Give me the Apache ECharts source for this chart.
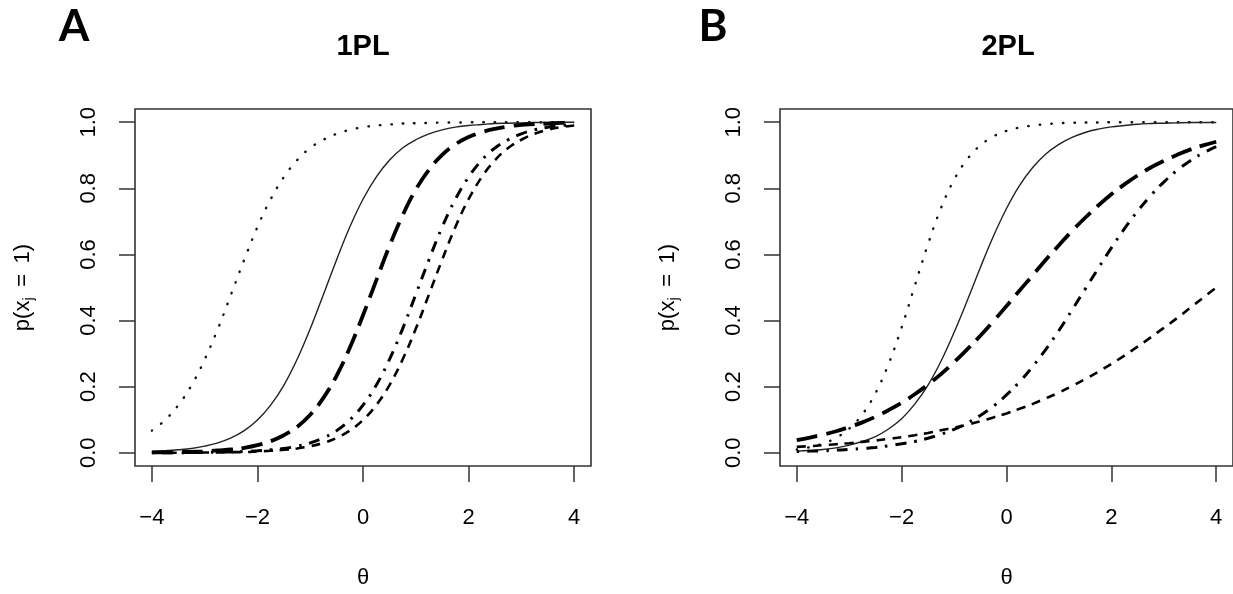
<!DOCTYPE html>
<html><head><meta charset="utf-8">
<script src="https://cdn.jsdelivr.net/npm/echarts@6/dist/echarts.min.js"></script>
<style>html,body{margin:0;padding:0;background:#fff}#c{width:1233px;height:594px}</style>
</head><body><div id="c"></div>
<script>
// ---- data ----
const theta = [-4,-3.75,-3.5,-3.25,-3,-2.75,-2.5,-2.25,-2,-1.75,-1.5,-1.25,-1,-0.75,-0.5,-0.25,0,0.25,0.5,0.75,1,1.25,1.5,1.75,2,2.25,2.5,2.75,3,3.25,3.5,3.75,4];
const xTicks = [-4,-2,0,2,4];
const yTicks = [0,0.2,0.4,0.6,0.8,1];
const panelTitles = ['1PL','2PL'];
const panelLetters = ['A','B'];

// Panel A (1PL)
const pl1Dotted   = [0.067,0.099,0.144,0.204,0.282,0.375,0.479,0.584,0.683,0.767,0.834,0.885,0.922,0.947,0.965,0.977,0.985,0.990,0.993,0.996,0.997,0.998,0.999,0.999,1.000,1.000,1.000,1.000,1.000,1.000,1.000,1.000,1.000];
const pl1Solid    = [0.004,0.006,0.009,0.013,0.020,0.030,0.045,0.067,0.099,0.144,0.204,0.282,0.375,0.479,0.584,0.683,0.767,0.834,0.885,0.922,0.947,0.965,0.977,0.985,0.990,0.993,0.996,0.997,0.998,0.999,0.999,1.000,1.000];
const pl1LongDash = [0.001,0.001,0.002,0.003,0.004,0.007,0.010,0.015,0.023,0.035,0.053,0.078,0.115,0.166,0.233,0.318,0.416,0.521,0.625,0.718,0.796,0.856,0.901,0.933,0.955,0.970,0.980,0.987,0.992,0.994,0.996,0.998,0.998];
const pl1DashDot  = [0.000,0.000,0.000,0.001,0.001,0.002,0.002,0.004,0.006,0.009,0.013,0.020,0.030,0.045,0.067,0.099,0.144,0.204,0.282,0.375,0.479,0.584,0.683,0.767,0.834,0.885,0.922,0.947,0.965,0.977,0.985,0.990,0.993];
const pl1Dashed   = [0.000,0.000,0.000,0.000,0.001,0.001,0.002,0.002,0.004,0.006,0.009,0.013,0.020,0.030,0.045,0.067,0.099,0.144,0.204,0.282,0.375,0.479,0.584,0.683,0.767,0.834,0.885,0.922,0.947,0.965,0.977,0.985,0.990];

// Panel B (2PL)
const pl2Dotted   = [0.010,0.017,0.028,0.045,0.073,0.116,0.180,0.268,0.379,0.505,0.630,0.740,0.826,0.888,0.930,0.957,0.974,0.984,0.990,0.994,0.997,0.998,0.999,0.999,1.000,1.000,1.000,1.000,1.000,1.000,1.000,1.000,1.000];
const pl2Solid    = [0.005,0.007,0.010,0.015,0.023,0.034,0.049,0.072,0.103,0.147,0.204,0.277,0.364,0.460,0.560,0.655,0.739,0.809,0.863,0.904,0.933,0.954,0.969,0.979,0.986,0.990,0.994,0.996,0.997,0.998,0.999,0.999,0.999];
const pl2LongDash = [0.038,0.046,0.055,0.065,0.078,0.092,0.109,0.129,0.151,0.177,0.206,0.238,0.274,0.313,0.354,0.398,0.444,0.491,0.537,0.584,0.628,0.671,0.711,0.748,0.782,0.812,0.839,0.863,0.883,0.901,0.917,0.930,0.941];
const pl2DashDot  = [0.004,0.005,0.006,0.008,0.010,0.013,0.016,0.021,0.027,0.034,0.044,0.056,0.071,0.090,0.113,0.141,0.175,0.215,0.261,0.313,0.370,0.432,0.495,0.558,0.620,0.678,0.731,0.778,0.819,0.854,0.883,0.907,0.926];
const pl2Dashed   = [0.018,0.020,0.023,0.026,0.029,0.033,0.037,0.042,0.047,0.053,0.060,0.068,0.076,0.085,0.095,0.107,0.119,0.133,0.148,0.165,0.182,0.202,0.223,0.245,0.269,0.294,0.321,0.349,0.378,0.407,0.438,0.469,0.500];

// ---- styling ----
const FONT = '"Liberation Sans", Arial, Helvetica, sans-serif';
const INK = '#000';
const AX = '#333';
const lineStyles = {
  dotted:   {color:'#111', width:2.4, type:[0.5, 11], cap:'round'},
  solid:    {color:'#222', width:1.4, type:'solid'},
  longdash: {color:'#000', width:3.8, type:[21, 9], cap:'butt'},
  dashdot:  {color:'#000', width:3.0, type:[2.5, 8, 11, 8], cap:'butt'},
  dashed:   {color:'#000', width:2.6, type:[9, 7], cap:'butt'}
};
const panels = [
  {grid:{left:135, top:109, width:456, height:362},
   series:[['dotted',pl1Dotted],['solid',pl1Solid],['longdash',pl1LongDash],['dashdot',pl1DashDot],['dashed',pl1Dashed]]},
  {grid:{left:780, top:109, width:456, height:362},
   series:[['dotted',pl2Dotted],['solid',pl2Solid],['longdash',pl2LongDash],['dashdot',pl2DashDot],['dashed',pl2Dashed]]}
];

const fmtX = v => v < 0 ? '\u2212' + Math.abs(v) : String(v);
const fmtY = v => v.toFixed(1);

const grids = [], xAxes = [], yAxes = [], series = [], graphics = [];
panels.forEach((p, i) => {
  grids.push(Object.assign({show:true, borderColor:AX, borderWidth:1.6, backgroundColor:'transparent', containLabel:false}, p.grid));
  xAxes.push({
    gridIndex:i, type:'value', min:-4.32, max:4.32,
    axisLine:{show:false, onZero:false}, splitLine:{show:false},
    axisTick:{show:true, length:16, customValues:xTicks, lineStyle:{color:AX, width:1.5}},
    axisLabel:{customValues:xTicks, margin:41, fontSize:22, fontFamily:FONT, color:INK, formatter:fmtX},
    name:'\u03B8', nameLocation:'middle', nameGap:101,
    nameTextStyle:{fontSize:22, fontFamily:FONT, color:INK}
  });
  yAxes.push({
    gridIndex:i, type:'value', min:-0.04, max:1.04,
    axisLine:{show:false, onZero:false}, splitLine:{show:false},
    axisTick:{show:true, length:16, customValues:yTicks, lineStyle:{color:AX, width:1.5}},
    axisLabel:{customValues:yTicks, rotate:90, margin:35, fontSize:22, fontFamily:FONT, color:INK, formatter:fmtY},
    name:'{n|p(x}{s|j}{n| \u2009=\u2009 1)}', nameLocation:'middle', nameGap:99,
    nameTextStyle:{rich:{
      n:{fontSize:22, fontFamily:FONT, color:INK, lineHeight:26},
      s:{fontSize:15, fontFamily:FONT, color:INK, padding:[12,0,0,0]}
    }}
  });
  p.series.forEach(([kind, arr]) => {
    series.push({
      type:'line', xAxisIndex:i, yAxisIndex:i, name:kind,
      data: theta.map((t, j) => [t, arr[j]]),
      showSymbol:false, symbol:'none', smooth:0.4,
      lineStyle: lineStyles[kind], silent:true, animation:false
    });
  });
  const cx = p.grid.left + p.grid.width / 2;
  graphics.push({type:'text', x:cx, y:47, style:{text:panelTitles[i], font:'bold 29px ' + FONT, fill:INK, align:'center', verticalAlign:'middle'}});
});
graphics.push({type:'text', x:74, y:27, style:{text:panelLetters[0], font:'bold 44px Lato, "Open Sans", sans-serif', fill:'#000', align:'center', verticalAlign:'middle'}});
graphics.push({type:'text', x:713, y:27, style:{text:panelLetters[1], font:'bold 44px Lato, "Open Sans", sans-serif', fill:'#000', align:'center', verticalAlign:'middle'}});

const chart = echarts.init(document.getElementById('c'), null, {renderer:'canvas'});
chart.setOption({
  backgroundColor:'#fff',
  animation:false,
  grid: grids, xAxis: xAxes, yAxis: yAxes, series: series,
  graphic: graphics
});
</script>
</body></html>
